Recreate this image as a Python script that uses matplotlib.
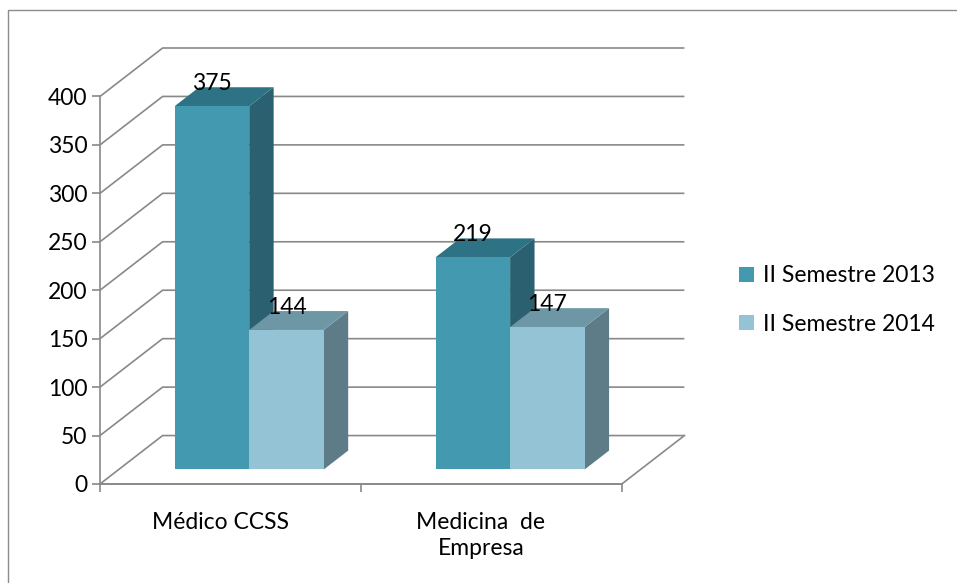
import matplotlib.pyplot as plt
from matplotlib.patches import Polygon, Rectangle, Patch

categories = ["Médico CCSS", "Medicina  de\nEmpresa"]
series = ["II Semestre 2013", "II Semestre 2014"]
values_2013 = [375, 219]
values_2014 = [144, 147]
yticks = list(range(0, 401, 50))

front_cols = ["#4299B0", "#93C3D5"]
top_cols = ["#2E7385", "#6E97A5"]
side_cols = ["#2A6070", "#5E7C87"]
grid_col = "#898989"

plt.rcParams['font.family'] = ['Lato', 'DejaVu Sans']
FS = 16.5

# fake 3d: depth vector in data units
DX, DY = 0.24, 50
F0, F1 = 0.3, 0.69
W = 0.2857

fig = plt.figure(figsize=(9.57, 5.83), dpi=100)
fig.patches.append(Rectangle((8 / 957, -0.02), 1.0, 1 - 10 / 583 + 0.02,
                             transform=fig.transFigure, fill=False,
                             ec="#8c8c8c", lw=1))

ax = fig.add_axes([100 / 957, 99 / 583, 587 / 957, 436 / 583])
ax.set_xlim(0, 2 + DX + 0.01)
ax.set_ylim(0, 400 + DY)
ax.patch.set_visible(False)

# walls / gridlines
for v in yticks:
    ax.plot([0, DX, 2 + DX], [v, v + DY, v + DY], color=grid_col, lw=1.2,
            clip_on=False, zorder=1, solid_capstyle='butt')
ax.plot([0, 2, 2 + DX], [0, 0, DY], color=grid_col, lw=1.2, clip_on=False, zorder=1)

for sp in ["top", "right"]:
    ax.spines[sp].set_visible(False)
ax.spines["left"].set_bounds(0, 400)
ax.spines["bottom"].set_bounds(0, 2)
for sp in ["left", "bottom"]:
    ax.spines[sp].set_color(grid_col)
    ax.spines[sp].set_linewidth(1.2)

ax.set_yticks(yticks)
ax.tick_params(axis="y", length=6, width=1.2, color=grid_col, labelsize=FS, pad=3)
ax.set_xticks([0, 1, 2])
ax.set_xticklabels([])
ax.tick_params(axis="x", which="major", length=6, width=1.2, color=grid_col)
ax.set_xticks([0.46, 1.46], minor=True)
ax.set_xticklabels(categories, minor=True)
ax.tick_params(axis="x", which="minor", length=0, labelsize=FS, pad=20)
for lab in ax.get_xticklabels(minor=True):
    lab.set_linespacing(1.32)

ddx, ddy = (F1 - F0) * DX, (F1 - F0) * DY
for i in range(len(categories)):
    for j, vals in enumerate([values_2013, values_2014]):
        h = vals[i]
        x0 = i + 0.5 - W + j * W + F0 * DX
        y0 = F0 * DY
        side = Polygon([(x0 + W, y0), (x0 + W + ddx, y0 + ddy),
                        (x0 + W + ddx, y0 + h + ddy), (x0 + W, y0 + h)],
                       closed=True, fc=side_cols[j], ec="none", zorder=3)
        top = Polygon([(x0, y0 + h), (x0 + W, y0 + h),
                       (x0 + W + ddx, y0 + h + ddy), (x0 + ddx, y0 + h + ddy)],
                      closed=True, fc=top_cols[j], ec="none", zorder=3)
        front = Rectangle((x0, y0), W, h, fc=front_cols[j], ec="none", zorder=3)
        for p in (side, top, front):
            ax.add_patch(p)
        ax.annotate(str(h), (x0 + W / 2, y0 + h + ddy), xytext=(0, 4),
                    textcoords="offset pixels", ha="center", va="center",
                    fontsize=FS, zorder=5)

handles = [Patch(fc=c, ec="none") for c in front_cols]
fig.legend(handles, series, loc="center left", bbox_to_anchor=(739 / 957, 1 - 300 / 583),
           frameon=False, fontsize=FS, handlelength=0.65, handleheight=0.65,
           handletextpad=0.4, labelspacing=1.2, borderpad=0, borderaxespad=0)

fig.savefig("out.png", dpi=100)
